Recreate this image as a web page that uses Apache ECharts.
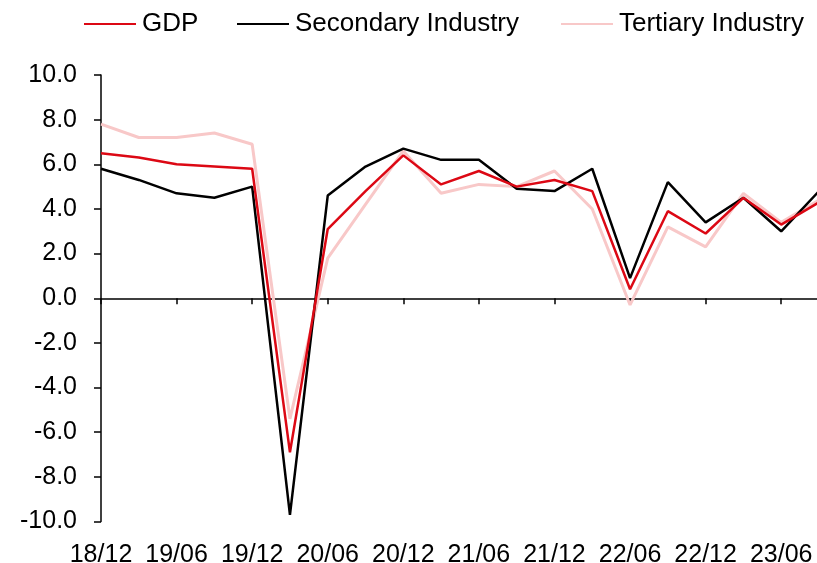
<!DOCTYPE html>
<html>
<head>
<meta charset="utf-8">
<script src="https://cdn.jsdelivr.net/npm/echarts@6/dist/echarts.min.js"></script>
<style>
html,body{margin:0;padding:0;background:#fff;}
#c{width:817px;height:563px;}
</style>
</head>
<body>
<div id="c"></div>
<script>
const categories = ['18/12','19/03','19/06','19/09','19/12','20/03','20/06','20/09','20/12','21/03','21/06','21/09','21/12','22/03','22/06','22/09','22/12','23/03','23/06','23/09'];
const gdp =       [6.5, 6.3, 6.0, 5.9, 5.8, -6.9, 3.1, 4.8, 6.4, 5.1, 5.7, 5.0, 5.3, 4.8, 0.4, 3.9, 2.9, 4.5, 3.3, 4.3];
const secondary = [5.8, 5.3, 4.7, 4.5, 5.0, -9.7, 4.6, 5.9, 6.7, 6.2, 6.2, 4.9, 4.8, 5.8, 0.9, 5.2, 3.4, 4.5, 3.0, 4.8];
const tertiary =  [7.8, 7.2, 7.2, 7.4, 6.9, -5.4, 1.8, 4.2, 6.6, 4.7, 5.1, 5.0, 5.7, 4.0, -0.3, 3.2, 2.3, 4.7, 3.4, 4.4];
const seriesNames = ['GDP', 'Secondary Industry', 'Tertiary Industry'];
const yTicks = {min: -10, max: 10, interval: 2};

const FONT = "'Liberation Sans', Arial, sans-serif";
const colors = ['#dc0814', '#000000', '#f8c8c8'];

const chart = echarts.init(document.getElementById('c'), null, {renderer: 'canvas'});
const legendLefts = [83, 236, 560];
const legendBase = {
  top: 11, itemWidth: 52, itemHeight: 26, padding: 0,
  textStyle: {fontFamily: FONT, fontSize: 26, color: '#000', padding: [0,0,0,1]},
  itemStyle: {opacity: 0}
};
chart.setOption({
  animation: false,
  backgroundColor: '#fff',
  legend: seriesNames.map((n, i) => Object.assign({}, legendBase, {left: legendLefts[i], data: [n]})),
  grid: {left: 101, right: -2, top: 75, bottom: 41.5, containLabel: false, outerBoundsMode: 'none'},
  xAxis: [
    {
      type: 'category', data: categories, boundaryGap: false, position: 'bottom',
      axisLine: {onZero: true, lineStyle: {color: '#000', width: 1.5}},
      axisTick: {show: true, interval: 1, length: 6, inside: false, lineStyle: {color: '#000', width: 1.5}},
      axisLabel: {show: false},
      splitLine: {show: false}
    },
    {
      type: 'category', data: categories, boundaryGap: false, position: 'bottom',
      axisLine: {show: false, onZero: false},
      axisTick: {show: false},
      axisLabel: {show: true, interval: 1, margin: 21, fontFamily: FONT, fontSize: 25, color: '#000'},
      splitLine: {show: false}
    }
  ],
  yAxis: {
    type: 'value', min: yTicks.min, max: yTicks.max, interval: yTicks.interval,
    axisLine: {show: true, onZero: false, lineStyle: {color: '#000', width: 1.5}},
    axisTick: {show: true, length: 7, lineStyle: {color: '#000', width: 1.5}},
    axisLabel: {margin: 24, fontFamily: FONT, fontSize: 25, color: '#000', formatter: v => v.toFixed(1)},
    splitLine: {show: false}
  },
  series: [
    {name: seriesNames[2], type: 'line', data: tertiary, symbol: 'none', xAxisIndex: 0, z: 1,
     lineStyle: {color: colors[2], width: 3}, itemStyle: {color: colors[2]}},
    {name: seriesNames[1], type: 'line', data: secondary, symbol: 'none', xAxisIndex: 0, z: 2,
     lineStyle: {color: colors[1], width: 2.5}, itemStyle: {color: colors[1]}},
    {name: seriesNames[0], type: 'line', data: gdp, symbol: 'none', xAxisIndex: 0, z: 3,
     lineStyle: {color: colors[0], width: 2.5}, itemStyle: {color: colors[0]}}
  ]
});
</script>
</body>
</html>
